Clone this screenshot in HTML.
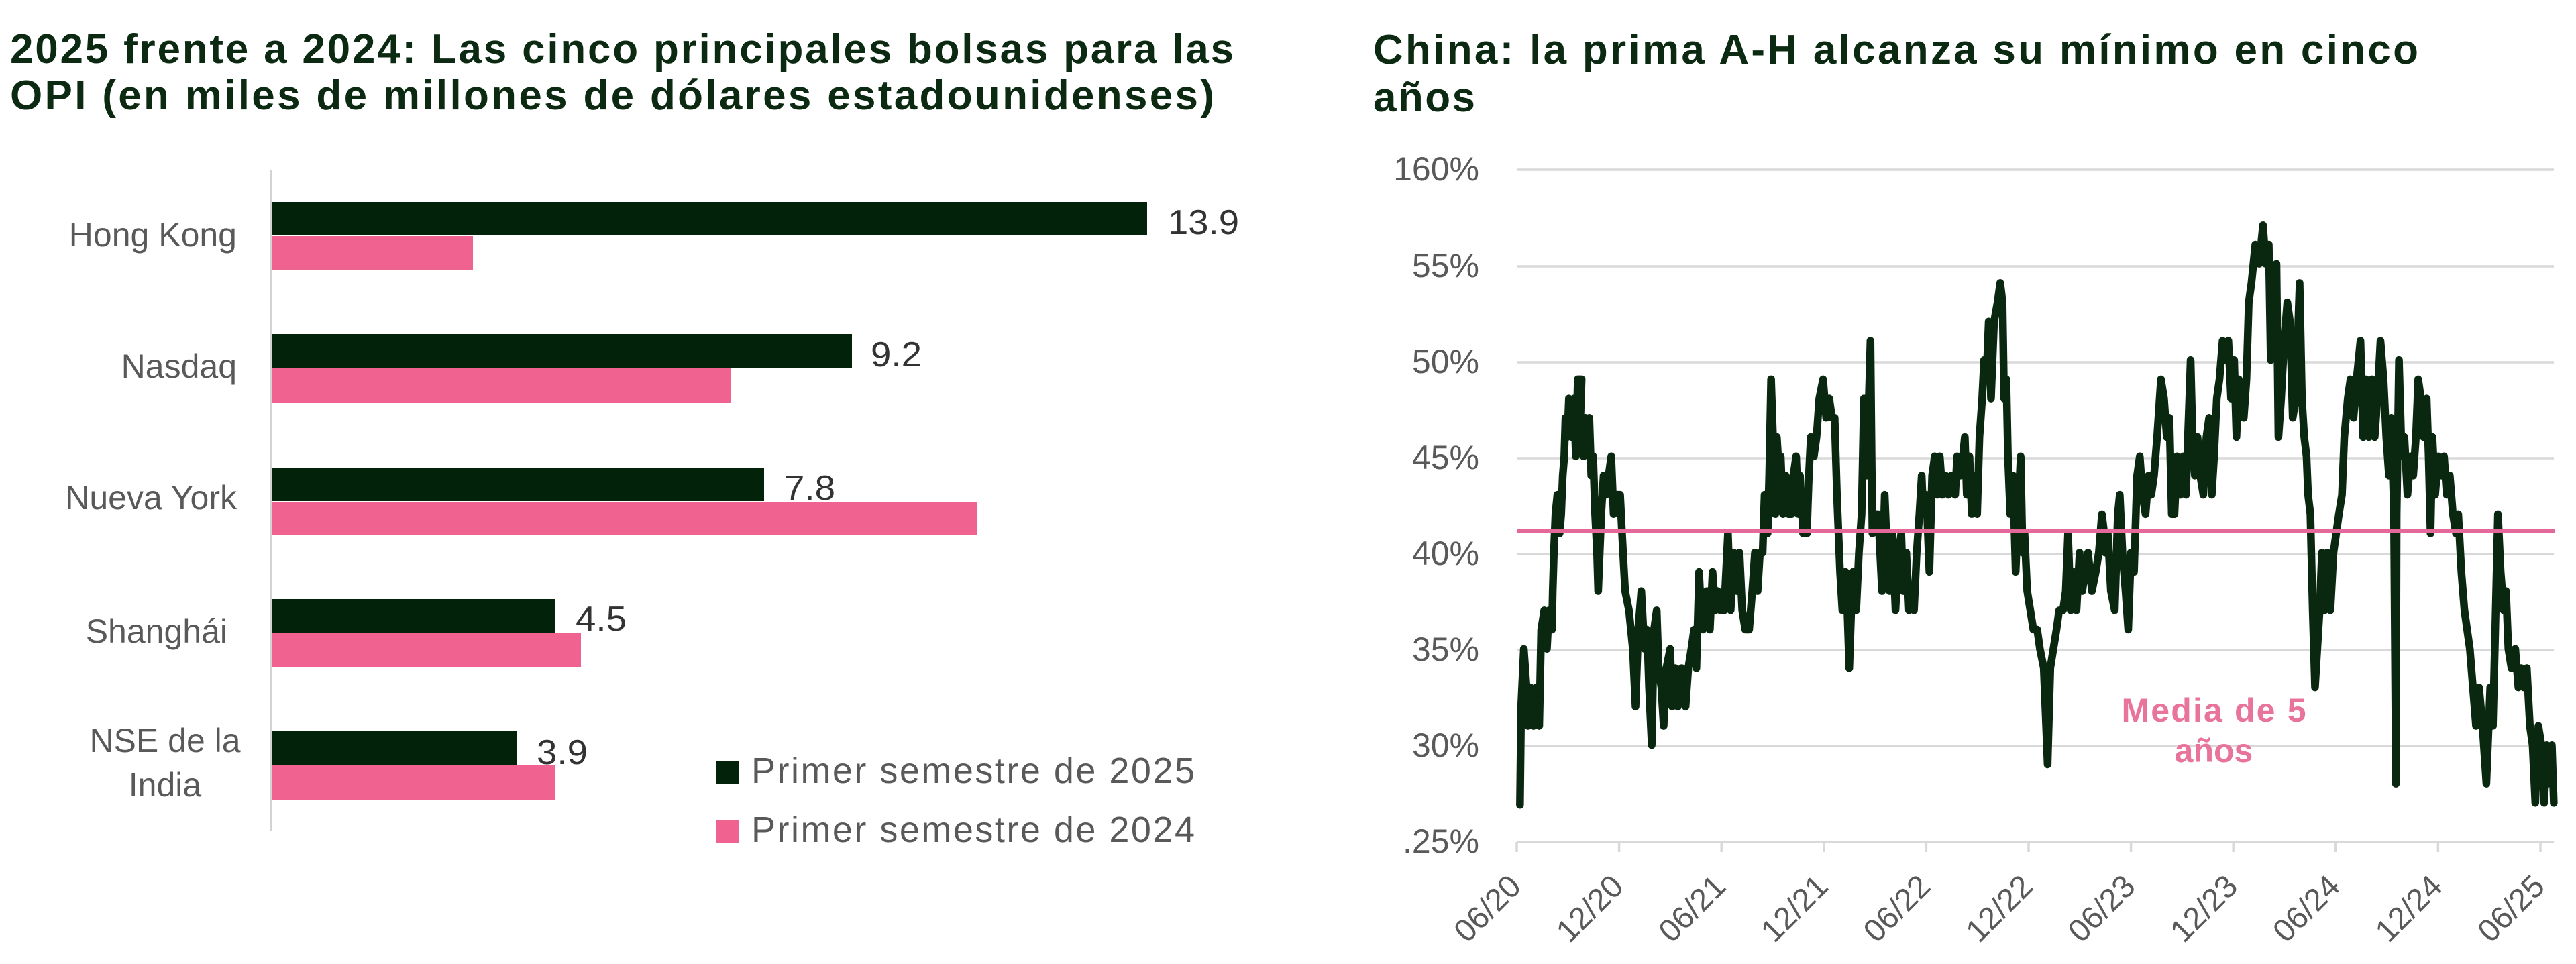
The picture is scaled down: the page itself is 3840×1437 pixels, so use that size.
<!DOCTYPE html>
<html>
<head>
<meta charset="utf-8">
<style>
html,body{margin:0;padding:0;background:#fff;}
svg{display:block;}
text{font-family:"Liberation Sans",Arial,sans-serif;}
</style>
</head>
<body>
<svg width="3840" height="1437" viewBox="0 0 3840 1437" xmlns="http://www.w3.org/2000/svg">
<rect x="0" y="0" width="3840" height="1437" fill="#ffffff"/>

<!-- LEFT CHART -->
<text x="15" y="94" font-size="62" font-weight="bold" fill="#0c2912" textLength="1824" lengthAdjust="spacing">2025 frente a 2024: Las cinco principales bolsas para las</text>
<text x="15" y="163" font-size="62" font-weight="bold" fill="#0c2912" textLength="1795" lengthAdjust="spacing">OPI (en miles de millones de dólares estadounidenses)</text>

<line x1="404" y1="254" x2="404" y2="1238" stroke="#d3d3d3" stroke-width="3"/>

<!-- bars -->
<rect x="406" y="301" width="1304" height="50" fill="#03220a"/>
<rect x="406" y="352" width="299" height="51" fill="#f0628f"/>
<rect x="406" y="498" width="864" height="50" fill="#03220a"/>
<rect x="406" y="549" width="684" height="51" fill="#f0628f"/>
<rect x="406" y="697" width="733" height="50" fill="#03220a"/>
<rect x="406" y="748" width="1051" height="50" fill="#f0628f"/>
<rect x="406" y="893" width="422" height="50" fill="#03220a"/>
<rect x="406" y="944" width="460" height="51" fill="#f0628f"/>
<rect x="406" y="1090" width="364" height="50" fill="#03220a"/>
<rect x="406" y="1141" width="422" height="51" fill="#f0628f"/>

<!-- category labels -->
<g font-size="50" fill="#595959">
<text x="353" y="367" text-anchor="end">Hong Kong</text>
<text x="353" y="563" text-anchor="end">Nasdaq</text>
<text x="353" y="759" text-anchor="end">Nueva York</text>
<text x="339" y="958" text-anchor="end">Shanghái</text>
<text x="246" y="1121" text-anchor="middle">NSE de la</text>
<text x="246" y="1187" text-anchor="middle">India</text>
</g>

<!-- value labels -->
<g font-size="52" fill="#333333">
<text x="1741" y="349" textLength="106" lengthAdjust="spacingAndGlyphs">13.9</text>
<text x="1298" y="546" textLength="76" lengthAdjust="spacingAndGlyphs">9.2</text>
<text x="1169" y="745" textLength="76" lengthAdjust="spacingAndGlyphs">7.8</text>
<text x="858" y="940" textLength="76" lengthAdjust="spacingAndGlyphs">4.5</text>
<text x="800" y="1139" textLength="76" lengthAdjust="spacingAndGlyphs">3.9</text>
</g>

<!-- legend -->
<rect x="1068" y="1134" width="34" height="35" fill="#03220a"/>
<rect x="1068" y="1222" width="34" height="34" fill="#f0628f"/>
<text x="1120" y="1167" font-size="54" fill="#595959" textLength="661" lengthAdjust="spacing">Primer semestre de 2025</text>
<text x="1120" y="1255" font-size="54" fill="#595959" textLength="661" lengthAdjust="spacing">Primer semestre de 2024</text>

<!-- RIGHT CHART -->
<text x="2047" y="95" font-size="62" font-weight="bold" fill="#0c2912" textLength="1558" lengthAdjust="spacing">China: la prima A-H alcanza su mínimo en cinco</text>
<text x="2047" y="166" font-size="62" font-weight="bold" fill="#0c2912" textLength="152" lengthAdjust="spacing">años</text>

<!-- gridlines -->
<g stroke="#d9d9d9" stroke-width="3.5">
<line x1="2262" y1="253" x2="3807" y2="253"/>
<line x1="2262" y1="397" x2="3807" y2="397"/>
<line x1="2262" y1="540" x2="3807" y2="540"/>
<line x1="2262" y1="683" x2="3807" y2="683"/>
<line x1="2262" y1="826" x2="3807" y2="826"/>
<line x1="2262" y1="969" x2="3807" y2="969"/>
<line x1="2262" y1="1112" x2="3807" y2="1112"/>
<line x1="2261" y1="1255" x2="3807" y2="1255"/>
<line x1="2261" y1="1255" x2="2261" y2="1270"/>
<line x1="2413.6" y1="1255" x2="2413.6" y2="1270"/>
<line x1="2566.2" y1="1255" x2="2566.2" y2="1270"/>
<line x1="2718.8" y1="1255" x2="2718.8" y2="1270"/>
<line x1="2871.4" y1="1255" x2="2871.4" y2="1270"/>
<line x1="3024" y1="1255" x2="3024" y2="1270"/>
<line x1="3176.6" y1="1255" x2="3176.6" y2="1270"/>
<line x1="3329.2" y1="1255" x2="3329.2" y2="1270"/>
<line x1="3481.8" y1="1255" x2="3481.8" y2="1270"/>
<line x1="3634.4" y1="1255" x2="3634.4" y2="1270"/>
<line x1="3787" y1="1255" x2="3787" y2="1270"/>
</g>

<!-- y labels -->
<g font-size="50" fill="#595959" text-anchor="end">
<text x="2205" y="269">160%</text>
<text x="2205" y="413">55%</text>
<text x="2205" y="556">50%</text>
<text x="2205" y="699">45%</text>
<text x="2205" y="842">40%</text>
<text x="2205" y="985">35%</text>
<text x="2205" y="1128">30%</text>
<text x="2205" y="1271">.25%</text>
</g>

<!-- x labels -->
<g font-size="47" fill="#595959" text-anchor="end">
<text transform="translate(2270 1324) rotate(-45)">06/20</text>
<text transform="translate(2422.6 1324) rotate(-45)">12/20</text>
<text transform="translate(2575.2 1324) rotate(-45)">06/21</text>
<text transform="translate(2727.8 1324) rotate(-45)">12/21</text>
<text transform="translate(2880.4 1324) rotate(-45)">06/22</text>
<text transform="translate(3033 1324) rotate(-45)">12/22</text>
<text transform="translate(3185.6 1324) rotate(-45)">06/23</text>
<text transform="translate(3338.2 1324) rotate(-45)">12/23</text>
<text transform="translate(3490.8 1324) rotate(-45)">06/24</text>
<text transform="translate(3643.4 1324) rotate(-45)">12/24</text>
<text transform="translate(3796 1324) rotate(-45)">06/25</text>
</g>

<!-- data line part 1 -->
<g transform="translate(2240 330) scale(0.5741)">
<polyline fill="none" stroke="#0a2810" stroke-width="20" stroke-linejoin="round" stroke-linecap="round" points="
45,1515 48,1260 55,1110 62,1210 66,1310 72,1210 80,1310 88,1210 95,1310 98,1160 100,1060 108,1010 115,1110 120,1010 128,1060 130,960 133,860 137,760 142,710 148,810 152,760 156,660 160,610 163,510 168,560 172,460 180,560 185,460 190,610 195,410 205,410 200,560 210,610 215,510 220,560 225,510 230,660 235,610 240,760 245,860 248,960 252,860 256,760 262,660 268,710 275,660 282,610 288,760 295,710 305,710 310,810 318,960 328,1010 338,1110 345,1260 352,1060 360,960 368,1110 375,1060 380,1210 387,1360 393,1060 400,1010 405,1160 412,1210 418,1310 425,1160 435,1110 440,1260 448,1160 455,1260 465,1160 475,1260 482,1160 490,1110 497,1060 503,1160 510,910 515,1010 520,1060 530,960 538,1060 545,910 552,1010 558,960 565,1010 575,1010 585,810 592,1010 600,860 608,960 615,860 622,1010 630,1060 640,1060 648,960 655,860 662,960 668,860 675,860 680,710 688,810 692,660 697,410 702,560 708,760 712,560 718,660 722,610 728,760 735,660 742,760 750,760 755,660 762,610 768,760 772,660 780,810 790,810 795,660 800,560 808,610 815,560 822,460 832,410 840,510 848,460 855,510 862,510 868,710 872,810 876,910 882,1010 890,910 895,1010 900,1160 905,1010 910,910 918,1010 925,860 932,760 938,460 945,660 955,310 960,810 968,760 975,760 985,960 992,710 998,860 1005,960 1012,810 1020,1010 1028,860 1035,810 1040,960 1048,860 1055,1010 1062,960 1068,1010 1075,860 1082,760 1088,660 1092,760 1100,710 1108,910 1115,660 1122,610 1128,710 1135,610 1142,710 1150,660 1158,710 1165,660 1175,710 1180,610 1188,660 1195,610 1200,560 1205,710 1212,610 1218,760 1225,660 1232,760 1238,560 1245,460 1250,360 1256,410 1262,260 1268,460 1276,260 1285,210 1292,160 1298,210 1302,460 1308,410 1312,610 1318,760 1325,660 1332,910 1338,760 1345,610 1350,860 1355,810 1362,960 1370,1010 1378,1060 1388,1060 1395,1110 1405,1160 1415,1410 1422,1160 1430,1110 1438,1060 1445,1010 1455,1010 1462,960 1468,810 1475,1010 1482,910 1490,1010 1498,860 1505,960 1512,910 1520,860 1530,960 1540,910 1548,860 1556,760 1562,810"/>
</g>
<!-- data line part 2 -->
<g transform="translate(2940 330) scale(0.5741)">
<polyline fill="none" stroke="#0a2810" stroke-width="20" stroke-linejoin="round" stroke-linecap="round" points="
336,810 345,860 352,810 360,960 370,1010 378,760 383,710 390,860 398,960 405,1060 412,860 420,910 428,660 435,610 442,710 450,760 458,660 465,710 472,660 480,560 490,410 498,460 505,560 512,510 518,760 525,760 532,610 540,710 548,610 555,710 560,560 567,360 572,560 578,660 585,560 592,660 600,710 608,560 615,510 622,710 628,610 635,460 642,410 650,310 658,360 665,310 672,460 680,360 686,560 692,410 698,460 705,510 712,410 718,210 725,160 735,60 745,110 755,10 762,110 770,60 775,360 782,260 790,110 795,560 802,460 810,310 818,210 825,260 832,510 840,460 850,160 856,460 862,560 868,610 872,710 878,760 884,1010 890,1210 896,1110 902,1010 908,860 915,1010 922,860 930,1010 938,860 945,810 952,760 960,710 966,560 975,460 982,410 990,510 998,410 1008,310 1015,560 1022,410 1030,560 1038,410 1045,560 1052,460 1060,310 1068,410 1075,560 1082,660 1088,510 1095,760 1100,1460 1102,760 1108,360 1115,610 1122,560 1130,710 1138,610 1145,660 1152,560 1158,410 1165,460 1172,560 1180,460 1185,610 1190,810 1195,560 1202,710 1210,610 1218,660 1225,610 1232,710 1240,660 1248,760 1256,810 1262,760 1270,910 1278,1010 1285,1060 1292,1110 1300,1210 1308,1310 1316,1210 1325,1310 1335,1460 1345,1210 1352,1310 1358,1060 1365,760 1372,910 1380,1010 1386,960 1392,1110 1400,1160 1410,1110 1418,1210 1425,1160 1432,1210 1440,1160 1448,1310 1455,1360 1462,1510 1470,1310 1478,1360 1485,1510 1492,1360 1500,1460 1505,1360 1510,1510"/>
</g>

<!-- mean line -->
<line x1="2262" y1="791" x2="3808" y2="791" stroke="#e5689a" stroke-width="6"/>

<!-- mean label -->
<g font-size="50" font-weight="bold" fill="#e8739b" text-anchor="middle">
<text x="3300" y="1076" textLength="275" lengthAdjust="spacing">Media de 5</text>
<text x="3300" y="1136">años</text>
</g>
</svg>
</body>
</html>
